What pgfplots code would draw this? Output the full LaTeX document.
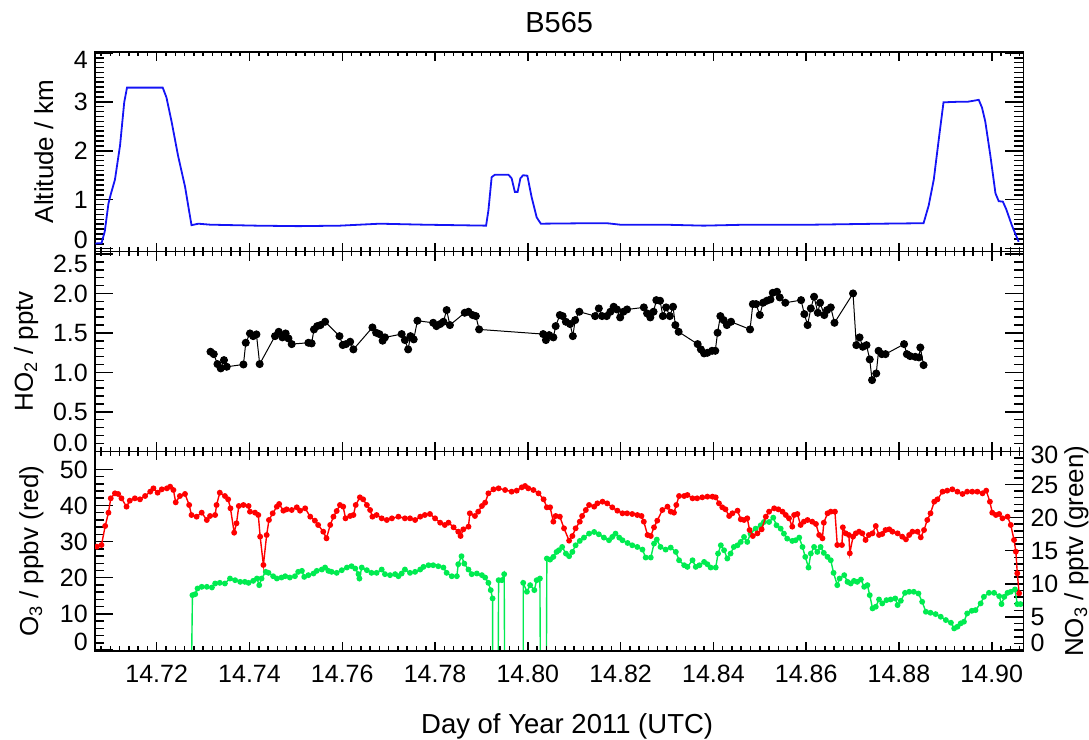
\documentclass[border=0pt]{standalone}
\usepackage{fontspec}
\setmainfont{Liberation Sans}
\usepackage{pgfplots}
\pgfplotsset{compat=1.18}
\definecolor{altblue}{RGB}{20,20,245}
\definecolor{o3red}{RGB}{255,0,0}
\definecolor{no3green}{RGB}{0,235,80}
\newcommand\tl[1]{\raisebox{#1}{\pgfmathprintnumber{\tick}}}
\pgfplotsset{
  panel/.style={
    scale only axis, width=928.3bp, height=199.7bp,
    xmin=14.7067, xmax=14.9068,
    xtick={14.72,14.74,14.76,14.78,14.80,14.82,14.84,14.86,14.88,14.90},
    minor xtick={14.708,14.710,14.712,14.714,14.716,14.718,14.722,14.724,14.726,14.728,14.730,14.732,14.734,14.736,14.738,14.742,14.744,14.746,14.748,14.750,14.752,14.754,14.756,14.758,14.762,14.764,14.766,14.768,14.770,14.772,14.774,14.776,14.778,14.782,14.784,14.786,14.788,14.790,14.792,14.794,14.796,14.798,14.802,14.804,14.806,14.808,14.810,14.812,14.814,14.816,14.818,14.822,14.824,14.826,14.828,14.830,14.832,14.834,14.836,14.838,14.842,14.844,14.846,14.848,14.850,14.852,14.854,14.856,14.858,14.862,14.864,14.866,14.868,14.870,14.872,14.874,14.876,14.878,14.882,14.884,14.886,14.888,14.890,14.892,14.894,14.896,14.898,14.902,14.904,14.906},
    tick align=inside,
    axis line style={line width=1.5bp},
    tick style={line width=1.5bp, black},
    major tick length=18bp, minor tick length=9bp,
    xtick style={/pgfplots/major tick length=9bp, /pgfplots/minor tick length=4.5bp},
    xticklabel style={anchor=base, yshift=-32bp, /pgf/number format/.cd, fixed, fixed zerofill, precision=2, assume math mode=true},
    yticklabel style={anchor=base east, yshift=-9bp, xshift=1.3bp, /pgf/number format/assume math mode=true},
    every axis y label/.style={rotate=90, anchor=base, font=\fontsize{26bp}{31bp}\selectfont},
  }
}
\begin{document}
\fontsize{25bp}{30bp}\selectfont
\begin{tikzpicture}
\useasboundingbox (0,0) rectangle (1089bp,740bp);
% ---------- Panel 1: altitude ----------
\begin{axis}[panel, at={(95bp,488.4bp)}, anchor=south west,
  ymin=-0.06, ymax=4.02, ytick={0,1,2,3,4}, minor y tick num=9,
  yticklabel={\ifnum\ticknum=0 \tl{9bp}\else\ifnum\ticknum=4 \tl{-7bp}\else\tl{0bp}\fi\fi},
  xticklabels={},
  ylabel={Altitude / km},
  ylabel style={at={(axis description cs:-0.0452,0.5)}},
  title={B565}, title style={at={(0.5,1)}, anchor=base, yshift=13.2bp, font=\fontsize{29bp}{34bp}\selectfont}]
\addplot[color=altblue, line width=1.8bp, mark=none] coordinates {
(14.7068,0.10) (14.7072,0.11) (14.7081,0.11) (14.7088,0.35) (14.7096,0.92) (14.7101,1.11)
(14.7110,1.41) (14.7121,2.11) (14.7130,2.99) (14.7136,3.29) (14.7164,3.29) (14.7193,3.29)
(14.7213,3.29) (14.7221,3.09) (14.7232,2.60) (14.7246,1.90) (14.7261,1.27) (14.7275,0.48)
(14.7290,0.51) (14.7315,0.49) (14.7415,0.47) (14.7505,0.46) (14.7595,0.47) (14.7681,0.51)
(14.7775,0.49) (14.7910,0.47) (14.7915,0.78) (14.7922,1.46) (14.7929,1.51) (14.7958,1.51)
(14.7965,1.44) (14.7972,1.16) (14.7978,1.16) (14.7984,1.44) (14.7990,1.50) (14.7999,1.49)
(14.8008,1.06) (14.8019,0.64) (14.8028,0.51) (14.8134,0.52) (14.8170,0.52) (14.8199,0.49)
(14.8293,0.49) (14.8379,0.47) (14.8472,0.49) (14.8616,0.49) (14.8760,0.51) (14.8853,0.52)
(14.8864,0.88) (14.8875,1.41) (14.8886,2.25) (14.8896,2.99) (14.8925,3.00) (14.8947,3.00)
(14.8972,3.04) (14.8979,2.88) (14.8986,2.60) (14.8997,1.90) (14.9008,1.13) (14.9015,0.97)
(14.9024,0.96) (14.9031,0.81) (14.9044,0.46) (14.9058,0.14)
};
\end{axis}
% ---------- Panel 2: HO2 ----------
\begin{axis}[panel, at={(95bp,288.7bp)}, anchor=south west,
  ymin=0, ymax=2.53, ytick={0,0.5,1,1.5,2,2.5}, minor y tick num=4,
  yticklabel style={/pgf/number format/.cd, fixed, fixed zerofill, precision=1},
  yticklabel={\ifnum\ticknum=0 \tl{9bp}\else\ifnum\ticknum=5 \tl{-10bp}\else\tl{0bp}\fi\fi},
  xticklabels={},
  ylabel={HO\textsubscript{2} / pptv},
  ylabel style={at={(axis description cs:-0.0668,0.5)}}]
\addplot[color=black, line width=1bp, mark=*, mark size=3.5bp] coordinates {
(14.7316,1.261) (14.7323,1.231) (14.7331,1.105) (14.7338,1.050) (14.7345,1.155) (14.7351,1.071)
(14.7387,1.100) (14.7392,1.375) (14.7401,1.493) (14.7408,1.459) (14.7415,1.481) (14.7422,1.105)
(14.7455,1.459) (14.7463,1.514) (14.7471,1.443) (14.7478,1.493) (14.7484,1.430) (14.7491,1.358)
(14.7527,1.375) (14.7534,1.367) (14.7539,1.544) (14.7546,1.586) (14.7553,1.599) (14.7563,1.641)
(14.7594,1.459) (14.7601,1.346) (14.7608,1.358) (14.7617,1.388) (14.7624,1.291) (14.7665,1.569)
(14.7673,1.502) (14.7680,1.485) (14.7687,1.401) (14.7692,1.443) (14.7728,1.485) (14.7735,1.409)
(14.7742,1.291) (14.7747,1.459) (14.7754,1.418) (14.7762,1.654) (14.7796,1.628) (14.7803,1.586)
(14.7811,1.612) (14.7818,1.641) (14.7825,1.789) (14.7832,1.599) (14.7864,1.755) (14.7872,1.768)
(14.7881,1.726) (14.7888,1.713) (14.7895,1.544) (14.8033,1.485) (14.8039,1.409) (14.8046,1.472)
(14.8055,1.443) (14.8060,1.586) (14.8069,1.726) (14.8075,1.713) (14.8082,1.641) (14.8091,1.612)
(14.8097,1.459) (14.8102,1.662) (14.8111,1.768) (14.8145,1.713) (14.8153,1.810) (14.8160,1.713)
(14.8170,1.713) (14.8178,1.768) (14.8185,1.831) (14.8192,1.797) (14.8199,1.696) (14.8206,1.768)
(14.8214,1.797) (14.8250,1.823) (14.8257,1.747) (14.8264,1.696) (14.8271,1.768) (14.8277,1.915)
(14.8285,1.907) (14.8291,1.713) (14.8298,1.823) (14.8306,1.713) (14.8313,1.831) (14.8318,1.599)
(14.8325,1.514) (14.8366,1.358) (14.8373,1.291) (14.8380,1.240) (14.8387,1.248) (14.8397,1.273)
(14.8404,1.273) (14.8409,1.502) (14.8415,1.713) (14.8422,1.662) (14.8429,1.599) (14.8438,1.641)
(14.8479,1.544) (14.8485,1.865) (14.8492,1.865) (14.8500,1.726) (14.8507,1.882) (14.8515,1.907)
(14.8523,1.924) (14.8528,2.008) (14.8537,2.021) (14.8543,1.949) (14.8555,1.882) (14.8589,1.915)
(14.8596,1.738) (14.8603,1.599) (14.8610,1.810) (14.8617,1.958) (14.8625,1.755) (14.8630,1.882)
(14.8639,1.726) (14.8645,1.789) (14.8653,1.823) (14.8661,1.628) (14.8701,2.000) (14.8708,1.345)
(14.8715,1.443) (14.8722,1.324) (14.8730,1.345) (14.8737,1.164) (14.8742,0.902) (14.8751,0.986)
(14.8756,1.273) (14.8763,1.231) (14.8771,1.231) (14.8811,1.358) (14.8817,1.231) (14.8824,1.206)
(14.8835,1.197) (14.8843,1.189) (14.8846,1.315) (14.8853,1.092)
};
\end{axis}
% ---------- Panel 3b: NO3 (right axis) ----------
\begin{axis}[panel, at={(95bp,89bp)}, anchor=south west,
  hide x axis, clip marker paths=true,
  ymin=-0.15, ymax=30.0, ytick={0,5,10,15,20,25,30}, minor y tick num=4,
  ytick pos=right, yticklabel pos=right,
  yticklabel style={anchor=base west, xshift=-2.6bp},
  yticklabel={\ifnum\ticknum=0 \tl{8bp}\else\ifnum\ticknum=6 \tl{-3bp}\else\tl{0bp}\fi\fi},
  ylabel={NO\textsubscript{3} / pptv (green)},
  ylabel style={at={(axis description cs:1.0643,0.5)}}]
\addplot[color=no3green, line width=1.4bp, mark=*, mark size=2.2bp] coordinates {
(14.7275,-3) (14.7277,8.28) (14.7283,8.43) (14.7288,9.29) (14.7297,9.54) (14.7308,9.54)
(14.7319,9.44) (14.7326,10.04) (14.7336,10.14) (14.7347,10.04) (14.7358,10.79) (14.7369,10.54)
(14.7380,10.29) (14.7390,10.29) (14.7398,10.14) (14.7408,10.44) (14.7416,10.79) (14.7421,9.79)
(14.7426,10.79) (14.7435,11.80) (14.7441,11.65) (14.7451,11.14) (14.7459,10.79) (14.7469,10.94)
(14.7477,11.14) (14.7487,10.94) (14.7498,11.14) (14.7505,11.80) (14.7513,11.95) (14.7518,11.04)
(14.7527,11.30) (14.7538,11.55) (14.7545,11.95) (14.7556,12.15) (14.7563,12.45) (14.7570,11.95)
(14.7577,11.80) (14.7588,11.65) (14.7599,12.05) (14.7610,12.45) (14.7620,12.65) (14.7628,12.30)
(14.7635,11.45) (14.7637,10.79) (14.7642,12.45) (14.7653,12.05) (14.7663,11.65) (14.7674,11.65)
(14.7685,12.15) (14.7692,11.45) (14.7703,11.30) (14.7714,11.45) (14.7721,11.14) (14.7728,11.55)
(14.7735,12.15) (14.7746,11.65) (14.7757,11.80) (14.7768,12.15) (14.7775,12.55) (14.7786,12.80)
(14.7796,12.80) (14.7807,12.65) (14.7818,12.45) (14.7825,11.65) (14.7836,11.14) (14.7847,11.14)
(14.7850,12.95) (14.7857,14.16) (14.7863,13.05) (14.7872,12.15) (14.7879,11.45) (14.7890,11.55)
(14.7901,11.30) (14.7908,10.94) (14.7915,10.14) (14.7920,9.04) (14.7924,7.78) (14.7924,-3)
(14.7936,-3) (14.7937,10.54) (14.7944,10.54) (14.7949,11.45) (14.7950,-3)
(14.7990,-3) (14.7990,10.14) (14.7998,8.79) (14.8005,9.79) (14.8014,9.04) (14.8019,10.54)
(14.8026,10.79) (14.8027,-3) (14.8040,-3) (14.8041,13.81) (14.8048,13.65) (14.8055,14.06)
(14.8062,14.81) (14.8067,15.06) (14.8074,15.56) (14.8082,14.56) (14.8089,14.16) (14.8096,14.81)
(14.8103,15.81) (14.8112,16.47) (14.8121,16.97) (14.8132,17.57) (14.8143,17.82) (14.8153,17.47)
(14.8164,16.97) (14.8175,16.57) (14.8182,17.07) (14.8189,17.57) (14.8197,16.97) (14.8204,16.57)
(14.8215,16.16) (14.8225,15.81) (14.8236,15.56) (14.8247,15.16) (14.8254,13.96) (14.8265,13.96)
(14.8272,16.06) (14.8278,16.67) (14.8286,15.56) (14.8297,15.16) (14.8308,15.46) (14.8319,14.81)
(14.8326,13.55) (14.8337,12.80) (14.8344,12.55) (14.8355,13.55) (14.8362,12.55) (14.8370,12.80)
(14.8380,13.30) (14.8387,12.95) (14.8394,12.45) (14.8405,12.45) (14.8410,14.56) (14.8416,15.81)
(14.8423,15.06) (14.8430,13.81) (14.8437,14.56) (14.8444,15.56) (14.8452,15.81) (14.8459,16.32)
(14.8466,17.07) (14.8473,16.32) (14.8480,17.57) (14.8491,18.32) (14.8502,18.83) (14.8509,19.33)
(14.8520,19.33) (14.8529,19.98) (14.8536,18.83) (14.8545,18.32) (14.8552,17.57) (14.8559,16.82)
(14.8570,16.47) (14.8577,16.57) (14.8585,16.97) (14.8592,15.56) (14.8598,14.06) (14.8605,12.45)
(14.8610,14.56) (14.8617,15.56) (14.8624,14.81) (14.8631,15.56) (14.8638,14.66) (14.8646,14.06)
(14.8653,13.55) (14.8659,11.65) (14.8667,9.79) (14.8672,10.79) (14.8682,11.30) (14.8689,10.29)
(14.8696,10.04) (14.8703,10.44) (14.8710,10.29) (14.8718,10.64) (14.8725,9.54) (14.8732,9.79)
(14.8737,8.28) (14.8743,6.28) (14.8750,6.53) (14.8757,7.63) (14.8764,7.03) (14.8773,7.53)
(14.8782,7.63) (14.8792,7.78) (14.8797,6.78) (14.8804,7.43) (14.8813,8.63) (14.8822,8.79)
(14.8832,8.79) (14.8842,8.53) (14.8850,7.28) (14.8858,5.77) (14.8868,5.62) (14.8879,5.42)
(14.8890,5.02) (14.8901,4.52) (14.8912,4.12) (14.8919,3.26) (14.8926,3.51) (14.8933,4.02)
(14.8940,4.27) (14.8947,5.52) (14.8957,5.92) (14.8965,6.02) (14.8976,7.03) (14.8983,8.03)
(14.8994,8.63) (14.9005,8.63) (14.9016,8.13) (14.9021,6.93) (14.9027,8.03) (14.9034,8.63)
(14.9041,8.79) (14.9050,9.14) (14.9055,6.93) (14.9062,6.93)
};
\end{axis}
% ---------- Panel 3a: O3 (left axis) ----------
\begin{axis}[panel, at={(95bp,89bp)}, anchor=south west,
  clip marker paths=true,
  ymin=-0.28, ymax=54.98, ytick={0,10,20,30,40,50}, minor y tick num=4,
  ytick pos=left,
  yticklabel={\ifnum\ticknum=0 \tl{8bp}\else\tl{0bp}\fi},
  ylabel={O\textsubscript{3} / ppbv (red)},
  ylabel style={at={(axis description cs:-0.0614,0.5)}},
  xlabel={Day of Year 2011 (UTC)},
  xlabel style={at={(axis description cs:0.5,0)}, anchor=base, xshift=8bp, yshift=-82bp, font=\fontsize{27.5bp}{33bp}\selectfont}]
\addplot[color=o3red, line width=1.4bp, mark=*, mark size=2.2bp] coordinates {
(14.7071,28.59) (14.7081,29.05) (14.7089,34.31) (14.7096,38.00) (14.7101,41.97) (14.7110,43.35)
(14.7117,43.17) (14.7124,41.97) (14.7135,39.66) (14.7142,41.32) (14.7153,41.97) (14.7164,41.69)
(14.7175,42.61) (14.7186,43.81) (14.7193,44.73) (14.7202,43.53) (14.7211,44.46) (14.7222,44.73)
(14.7229,45.19) (14.7236,44.27) (14.7241,40.86) (14.7250,42.61) (14.7261,43.17) (14.7270,40.12)
(14.7275,37.35) (14.7286,36.89) (14.7297,38.00) (14.7308,35.97) (14.7315,37.08) (14.7326,37.35)
(14.7329,40.12) (14.7336,43.53) (14.7347,42.61) (14.7354,41.69) (14.7359,39.20) (14.7367,32.47)
(14.7372,35.05) (14.7377,39.85) (14.7387,40.12) (14.7398,39.85) (14.7401,38.28) (14.7412,38.00)
(14.7419,37.35) (14.7423,31.36) (14.7430,23.52) (14.7437,31.82) (14.7442,35.97) (14.7450,37.82)
(14.7459,39.66) (14.7464,40.40) (14.7473,38.55) (14.7480,38.92) (14.7491,38.74) (14.7502,39.48)
(14.7509,38.55) (14.7520,39.20) (14.7531,36.89) (14.7541,35.79) (14.7548,34.59) (14.7559,32.74)
(14.7566,30.90) (14.7574,34.59) (14.7581,36.89) (14.7588,38.46) (14.7595,40.12) (14.7602,39.66)
(14.7607,36.43) (14.7617,37.08) (14.7624,37.35) (14.7629,40.12) (14.7638,42.24) (14.7645,41.69)
(14.7653,40.12) (14.7660,38.74) (14.7665,36.89) (14.7674,37.35) (14.7685,36.43) (14.7696,35.97)
(14.7707,36.43) (14.7721,36.89) (14.7735,36.43) (14.7746,36.43) (14.7757,35.97) (14.7768,36.89)
(14.7778,37.35) (14.7789,37.63) (14.7800,36.43) (14.7811,35.23) (14.7821,34.59) (14.7829,35.23)
(14.7840,33.94) (14.7850,32.74) (14.7855,31.54) (14.7861,33.39) (14.7872,34.13) (14.7875,37.82)
(14.7886,37.08) (14.7893,38.28) (14.7901,39.85) (14.7908,40.77) (14.7915,43.35) (14.7926,44.46)
(14.7937,44.73) (14.7951,44.27) (14.7965,43.81) (14.7976,44.09) (14.7987,45.01) (14.7994,45.38)
(14.8001,44.73) (14.8012,44.27) (14.8023,43.35) (14.8034,41.69) (14.8041,39.48) (14.8048,39.48)
(14.8055,35.51) (14.8060,37.08) (14.8069,36.89) (14.8078,33.67) (14.8089,30.25) (14.8096,31.54)
(14.8103,33.67) (14.8112,35.51) (14.8117,37.08) (14.8125,38.74) (14.8132,40.12) (14.8143,39.66)
(14.8150,40.58) (14.8161,41.04) (14.8171,40.58) (14.8182,39.48) (14.8193,38.55) (14.8204,37.82)
(14.8214,37.82) (14.8225,37.63) (14.8236,37.35) (14.8245,37.08) (14.8250,35.51) (14.8258,31.82)
(14.8265,31.54) (14.8272,33.94) (14.8279,35.79) (14.8290,38.74) (14.8301,39.66) (14.8308,38.28)
(14.8315,38.00) (14.8320,40.12) (14.8326,42.61) (14.8337,42.61) (14.8344,42.89) (14.8355,41.97)
(14.8365,41.97) (14.8376,42.24) (14.8387,42.43) (14.8398,42.43) (14.8405,42.24) (14.8412,40.58)
(14.8419,39.48) (14.8426,38.92) (14.8434,37.08) (14.8441,37.82) (14.8452,38.55) (14.8459,36.16)
(14.8466,35.97) (14.8473,36.43) (14.8478,33.20) (14.8485,31.54) (14.8495,32.28) (14.8504,33.39)
(14.8513,36.89) (14.8520,38.28) (14.8531,39.20) (14.8540,38.92) (14.8549,38.28) (14.8556,37.35)
(14.8563,36.43) (14.8570,34.13) (14.8574,37.35) (14.8581,37.63) (14.8588,34.59) (14.8595,35.51)
(14.8603,35.97) (14.8613,35.51) (14.8621,34.87) (14.8628,31.82) (14.8635,30.90) (14.8638,35.23)
(14.8646,37.82) (14.8653,38.28) (14.8662,38.28) (14.8667,29.05) (14.8677,29.05) (14.8679,33.94)
(14.8685,32.28) (14.8692,31.82) (14.8694,26.75) (14.8701,31.36) (14.8707,32.28) (14.8714,32.74)
(14.8721,32.28) (14.8728,30.44) (14.8735,31.82) (14.8743,32.28) (14.8750,34.31) (14.8757,31.82)
(14.8764,32.10) (14.8771,33.20) (14.8779,33.39) (14.8786,32.74) (14.8797,32.28) (14.8807,31.36)
(14.8815,30.62) (14.8822,31.82) (14.8829,32.74) (14.8840,32.74) (14.8847,31.17) (14.8854,33.20)
(14.8861,35.97) (14.8868,37.82) (14.8876,41.04) (14.8883,41.69) (14.8894,43.81) (14.8904,44.09)
(14.8915,44.46) (14.8926,43.81) (14.8937,43.17) (14.8947,43.81) (14.8958,43.81) (14.8969,43.81)
(14.8980,43.35) (14.8988,44.09) (14.8996,41.04) (14.9001,38.00) (14.9009,37.35) (14.9016,37.63)
(14.9023,36.43) (14.9034,36.89) (14.9041,34.59) (14.9048,30.44) (14.9052,27.21) (14.9055,21.21)
(14.9059,15.68)
};
\end{axis}
\end{tikzpicture}
\end{document}
